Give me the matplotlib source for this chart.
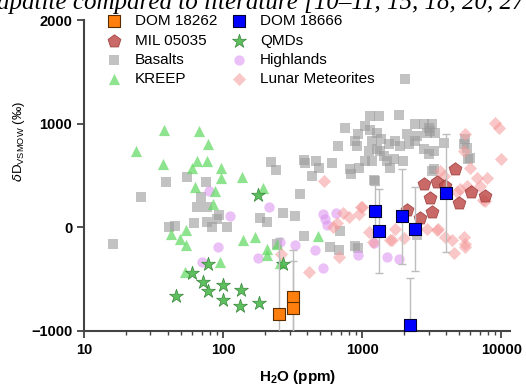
import matplotlib
matplotlib.use("Agg")
import matplotlib.pyplot as plt
from matplotlib.ticker import LogLocator, FixedLocator, NullFormatter

plt.rcParams['font.family'] = ['Liberation Sans', 'DejaVu Sans']
plt.rcParams['mathtext.fontset'] = 'custom'
plt.rcParams['mathtext.rm'] = 'Liberation Sans'
plt.rcParams['mathtext.bf'] = 'Liberation Sans:bold'

# H2O (ppm) and dD (permil)
dom18262_h2o = [254, 317, 317]
dom18262_dd = [-836, -670, -778]
dom18262_err = [730, 450, 450]

dom18666_h2o = [1241, 1318, 1931, 2378, 2213, 4018]
dom18666_dd = [156, -35, 108, -12, -944, 328]
dom18666_err = [250, 405, 460, 405, 454, 570]

mil_h2o = [4670, 2763, 3444, 3083, 3170, 2583, 4990, 6076, 7670, 2094, 3950]
mil_dd = [568, 418, 440, 280, 153, 93, 233, 338, 306, 163, 402]

qmd_h2o = [179, 60, 71, 78, 100, 135, 99.5, 132, 182, 46, 77.6, 269]
qmd_dd = [316, -437, -523, -612, -555, -603, -699, -763, -730, -667, -357, -354]

basalt_h2o = [16.2, 25.6, 39, 55, 75.5, 69.5, 64.7, 76.5, 94, 90, 62, 76.5, 83, 106,
              40.5, 45, 185, 206, 269, 221, 238, 244, 358, 330, 383, 388, 487, 435,
              2036, 755, 668, 383, 467, 611, 582, 695, 678, 890, 820, 837, 1225, 1142,
              1314, 1853, 1052, 1142, 1280, 1170, 1360, 1280, 1110, 1423, 1505, 1172,
              1679, 1590, 1980, 1052, 955, 925, 880, 1720, 2094, 2170, 2470, 2763, 3010,
              3170, 2940, 2763, 3010, 3260, 3845, 3260, 5510, 5665, 5985, 3330, 2378,
              1875, 1550, 1350, 915, 1240, 2470, 940, 2400, 3083, 5360, 5800, 3170]
basalt_dd = [-156, 290, 434, 488, 434, 297, 194, 194, 124, 83, 41, 51, 3, 3,
             3, 10, 93, 51, 137, 632, 552, -156, 322, 105, -86, 625, 577, 497,
             1432, 960, 785, 651, 641, 619, -188, -35, -220, -182, 562, 513, 456, 1072,
             1072, 1081, 976, 943, 912, 832, 849, 753, 737, 689, 641, 641,
             657, 577, 641, 641, 577, 897, 832, 832, 897, 801, 881, 993, 960,
             993, 912, 753, 705, 737, 817, 562, 849, 769, 673, 912, 993,
             785, 801, 737, 785, 450, -77, -200, 832, 928, 801, 657, 545]

highland_h2o = [79, 112, 91.5, 70, 213, 179, 257, 326, 459, 521, 521, 557, 650, 925,
                1218, 1504, 1853, 540]
highland_dd = [354, 105, -188, -332, 194, -300, -140, -166, -214, 131, -395, 26, 137,
               -268, -150, -284, -309, 80]

kreep_h2o = [23.6, 37.7, 67, 36.8, 77.6, 65, 76.7, 59.5, 96.8, 97, 137.6, 63, 88, 85,
             192, 41.8, 54, 48.5, 53.6, 138, 170, 95, 53, 206, 207, 245, 257, 480]
kreep_dd = [737, 938, 928, 615, 800, 641, 641, 571, 571, 481, 488, 386, 347, 227,
            380, -61, -29, -108, -172, -118, -93, -332, -428, -204, -268, -163, -345, -80]

lunmet_h2o = [533, 1004, 733, 809, 656, 621, 678, 417, 1128, 1590, 2004, 1720, 2940,
              3444, 3950, 4430, 5360, 5510, 4550, 9060, 9680, 9950, 5510, 5360, 5910,
              3600, 3845, 6680, 7880, 5070, 5665, 7060, 4810, 7670, 1195, 955, 262,
              3520, 5510, 983, 1640, 7380]
lunmet_dd = [450, 201, 137, 99, 41, 3, -284, -428, -45, -124, -102, -12, -12,
             -29, -93, -124, -93, -163, -252, 1008, 960, 657, 902, 737, 571,
             545, 498, 481, 481, 370, 402, 402, 338, 258, -140, 131, -258,
             -12, -188, 194, -118, 265]

fig = plt.figure(figsize=(5.26, 3.88), dpi=100)
ax = fig.add_axes([0.16, 0.147, 0.81, 0.801])

ax.scatter(basalt_h2o, basalt_dd, marker='s', s=55, color='#9a9a9a', alpha=0.6,
           linewidths=0, zorder=2, label='Basalts')
ax.scatter(highland_h2o, highland_dd, marker='o', s=55, color='#dc96f0', alpha=0.6,
           linewidths=0, zorder=3, label='Highlands')
ax.scatter(kreep_h2o, kreep_dd, marker='^', s=65, color='#5fd85f', alpha=0.7,
           linewidths=0, zorder=3, label='KREEP')
ax.scatter(lunmet_h2o, lunmet_dd, marker='D', s=45, color='#f59a9a', alpha=0.55,
           linewidths=0, zorder=3, label='Lunar Meteorites')
ax.scatter(qmd_h2o, qmd_dd, marker='*', s=110, color='#4cb84c', alpha=0.9,
           edgecolors='#2e7d32', linewidths=0.5, zorder=4, label='QMDs')
ax.scatter(mil_h2o, mil_dd, marker='p', s=95, color='#c0504d', alpha=0.85,
           edgecolors='#9a3a38', linewidths=0.6, zorder=5, label='MIL 05035')

ax.errorbar(dom18262_h2o, dom18262_dd, yerr=dom18262_err, fmt='none', ecolor='#bdbdbd',
            elinewidth=1, capsize=3, zorder=5)
ax.errorbar(dom18666_h2o, dom18666_dd, yerr=dom18666_err, fmt='none', ecolor='#bdbdbd',
            elinewidth=1, capsize=3, zorder=5)
ax.scatter(dom18262_h2o, dom18262_dd, marker='s', s=85, color='#ff7f0e',
           edgecolors='#5a2d00', linewidths=0.8, zorder=6, label='DOM 18262')
ax.scatter(dom18666_h2o, dom18666_dd, marker='s', s=85, color='#0000ff',
           edgecolors='#000033', linewidths=0.8, zorder=6, label='DOM 18666',
           clip_on=False)

ax.set_xscale('log')
ax.set_xlim(10, 11600)
ax.set_ylim(-1000, 2000)
ax.xaxis.set_major_locator(FixedLocator([10, 100, 1000, 10000]))
ax.set_xticklabels(['10', '100', '1000', '10000'])
ax.xaxis.set_minor_locator(LogLocator(base=10, subs=range(2, 10)))
ax.xaxis.set_minor_formatter(NullFormatter())
ax.set_yticks([-1000, 0, 1000, 2000])

for side in ['top', 'right']:
    ax.spines[side].set_visible(False)
for side in ['left', 'bottom']:
    ax.spines[side].set_color('#444444')
    ax.spines[side].set_linewidth(1.5)
ax.tick_params(which='major', length=5, width=1.3, color='#444444', labelsize=10.5)
ax.tick_params(which='minor', length=3, width=1, color='#444444')
for lab in ax.get_xticklabels() + ax.get_yticklabels():
    lab.set_fontweight('bold')

ax.set_xlabel(r'H$_\mathbf{2}$O (ppm)', fontsize=11, fontweight='bold', labelpad=8)
ax.set_ylabel(r'$\delta$D$_{\mathrm{VSMOW}}$ (‰)', fontsize=9.5)
ax.yaxis.set_label_coords(-0.135, 0.61)

handles, labels = ax.get_legend_handles_labels()
order = ['DOM 18262', 'MIL 05035', 'Basalts', 'KREEP',
         'DOM 18666', 'QMDs', 'Highlands', 'Lunar Meteorites']
hmap = dict(zip(labels, handles))
ax.legend([hmap[k] for k in order], order, ncol=2, frameon=False, fontsize=11,
          loc='upper left', bbox_to_anchor=(0.2025, 0.963), bbox_transform=fig.transFigure,
          handlelength=1.0, handletextpad=0.88, columnspacing=0.88, labelspacing=0.34,
          borderpad=0, borderaxespad=0)

fig.text(-0.005, 0.978, 'apatite compared to literature [10–11, 15, 18, 20, 27',
         fontsize=18, style='italic', family='Liberation Serif', va='baseline')

fig.savefig('out.png', dpi=100)
